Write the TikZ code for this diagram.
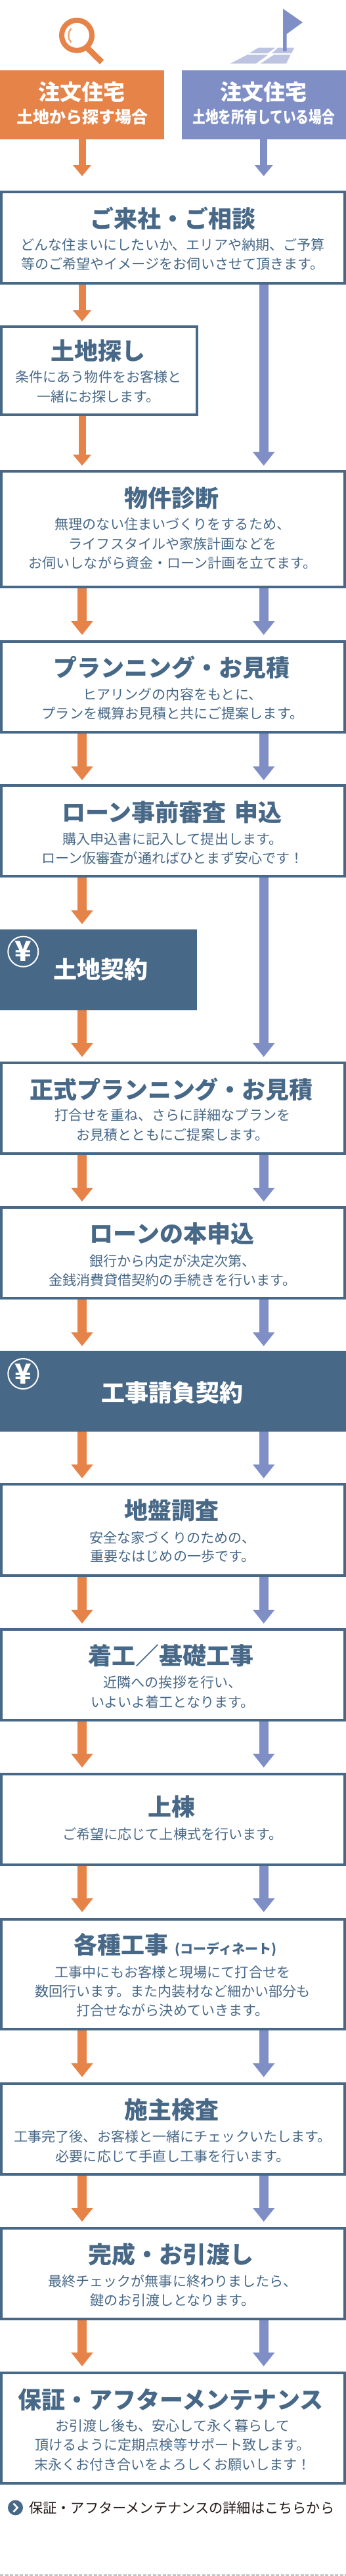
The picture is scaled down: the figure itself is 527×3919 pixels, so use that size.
\documentclass[tikz,border=0pt]{standalone}
\usepackage{fontspec}
\usepackage{graphicx}
\usetikzlibrary{arrows.meta}
\setmainfont{Noto Sans CJK JP}
\definecolor{navy}{HTML}{476887}
\definecolor{orng}{HTML}{E58348}
\definecolor{peri}{HTML}{7F8FC6}
\definecolor{perilt}{HTML}{BCC4E2}
\definecolor{orlt}{HTML}{EDA878}
\definecolor{ink}{HTML}{231815}
\newcommand{\fs}[1]{\fontsize{#1pt}{#1pt}\selectfont}
\tikzset{
  x=1pt,y=-1pt,
  flowbox/.style={draw=navy,line width=4pt,fill=white,anchor=north west,inner sep=0pt},
  wide/.style={minimum width=523pt},
  narrow/.style={minimum width=297.5pt},
  paybox/.style={fill=navy,anchor=north west,inner sep=0pt,outer sep=0pt},
  headbox/.style={anchor=north west,inner sep=0pt,outer sep=0pt,minimum width=250pt,minimum height=105.5pt},
  ttl/.style={text=navy,font=\fs{36}\bfseries,inner sep=0pt},
  ttlw/.style={text=white,font=\fs{36}\bfseries,inner sep=0pt},
  body/.style={text=navy,font=\fs{21.1},inner sep=0pt},
  oarrow/.style={draw=orng,fill=orng,line width=14pt,-{Triangle[width=32pt,length=21pt]}},
  barrow/.style={draw=peri,fill=peri,line width=14pt,-{Triangle[width=32pt,length=21pt]}},
  thin arrow/.style={line width=11pt,-{Triangle[width=27pt,length=17pt]}},
  yenmark/.style={draw=white,line width=2pt,circle,minimum size=46pt,inner sep=0pt,text=white,font=\fs{42}\bfseries},
}
\begin{document}
\begin{tikzpicture}
\path[use as bounding box,fill=white] (0,0) rectangle (527,3919);
\coordinate (ol) at (125,0);
\coordinate (bl) at (401.7,0);

% icons
\draw[orng,line width=8pt] (117,53.8) circle[radius=23];
\draw[orng,line width=9pt] (132,72) -- (155,94.5);
\draw[orlt,line width=2.5pt,line cap=round] (108,44) .. controls (103,50) and (103,58) .. (108,64);
\fill[perilt] (393.3,72.7) -- (419.3,72.7) -- (407.7,81) -- (380,81) -- cycle;
\fill[perilt] (423.3,72.7) -- (448.3,72.7) -- (444,81) -- (414,81) -- cycle;
\fill[perilt] (376.7,83.3) -- (408.3,83.3) -- (390,96.7) -- (350.7,96.7) -- cycle;
\fill[perilt] (417.3,83.3) -- (442.7,83.3) -- (436,96.7) -- (396.7,96.7) -- cycle;
\fill[peri] (431,13.3) -- (461,34) -- (436.7,51.7) -- (436.7,78) -- (431,78) -- cycle;

% header boxes
\node[headbox,fill=orng] (hL) at (0,106.5) {};
\node[headbox,fill=peri] (hR) at (277,106.5) {};
\node[text=white,font=\fs{33}\bfseries,inner sep=0pt] (hL1) at (124.5,139.5) {注文住宅};
\node[text=white,font=\fs{25}\bfseries,inner sep=0pt] (hL2) at (125,178) {土地から探す場合};
\node[text=white,font=\fs{33}\bfseries,inner sep=0pt] (hR1) at (401.7,139.5) {注文住宅};
\node[text=white,font=\fs{25}\bfseries,inner sep=0pt] (hR2) at (401.7,178) {\scalebox{0.79}[1]{土地を所有している場合}};

% step boxes
\node[flowbox,wide,minimum height=139pt] (b1) at (0,290) {};
\node[flowbox,narrow,minimum height=134pt] (b2) at (0,495) {};
\node[flowbox,wide,minimum height=176pt] (b3) at (0,715) {};
\node[flowbox,wide,minimum height=138pt] (b4) at (0,974) {};
\node[flowbox,wide,minimum height=138pt] (b5) at (0,1193) {};
\node[paybox,minimum width=300pt,minimum height=123pt] (b6) at (0,1414) {};
\node[flowbox,wide,minimum height=138pt] (b7) at (0,1615) {};
\node[flowbox,wide,minimum height=138pt] (b8) at (0,1835) {};
\node[paybox,minimum width=527pt,minimum height=123pt] (b9) at (0,2055) {};
\node[flowbox,wide,minimum height=139pt] (b10) at (0,2256) {};
\node[flowbox,wide,minimum height=138pt] (b11) at (0,2477) {};
\node[flowbox,wide,minimum height=138pt] (b12) at (0,2697) {};
\node[flowbox,wide,minimum height=167pt] (b13) at (0,2918) {};
\node[flowbox,wide,minimum height=138pt] (b14) at (0,3168) {};
\node[flowbox,wide,minimum height=138pt] (b15) at (0,3388) {};
\node[flowbox,wide,minimum height=168pt] (b16) at (0,3608) {};

% connectors, orange lane
\draw[oarrow,thin arrow,shorten >=22pt] (hL.south -| ol) -- (b1.north -| ol);
\draw[oarrow,thin arrow,shorten >=6pt] (b1.south -| ol) -- (b2.north -| ol);
\draw[oarrow,thin arrow,shorten >=6.5pt] (b2.south -| ol) -- (b3.north -| ol);
\draw[oarrow,shorten >=8pt] (b3.south -| ol) -- (b4.north -| ol);
\draw[oarrow,shorten >=6pt] (b4.south -| ol) -- (b5.north -| ol);
\draw[oarrow,shorten >=8pt] (b5.south -| ol) -- (b6.north -| ol);
\draw[oarrow,shorten >=7pt] (b6.south -| ol) -- (b7.north -| ol);
\draw[oarrow,shorten >=7pt] (b7.south -| ol) -- (b8.north -| ol);
\draw[oarrow,shorten >=7pt] (b8.south -| ol) -- (b9.north -| ol);
\draw[oarrow,shorten >=7pt] (b9.south -| ol) -- (b10.north -| ol);
\draw[oarrow,shorten >=7pt] (b10.south -| ol) -- (b11.north -| ol);
\draw[oarrow,shorten >=8pt] (b11.south -| ol) -- (b12.north -| ol);
\draw[oarrow,shorten >=9pt] (b12.south -| ol) -- (b13.north -| ol);
\draw[oarrow,shorten >=8pt] (b13.south -| ol) -- (b14.north -| ol);
\draw[oarrow,shorten >=8pt] (b14.south -| ol) -- (b15.north -| ol);
\draw[oarrow,shorten >=8pt] (b15.south -| ol) -- (b16.north -| ol);
% connectors, blue lane
\draw[barrow,thin arrow,shorten >=22pt] (hR.south -| bl) -- (b1.north -| bl);
\draw[barrow,shorten >=6.5pt] (b1.south -| bl) -- (b3.north -| bl);
\draw[barrow,shorten >=8pt] (b3.south -| bl) -- (b4.north -| bl);
\draw[barrow,shorten >=6pt] (b4.south -| bl) -- (b5.north -| bl);
\draw[barrow,shorten >=7pt] (b5.south -| bl) -- (b7.north -| bl);
\draw[barrow,shorten >=7pt] (b7.south -| bl) -- (b8.north -| bl);
\draw[barrow,shorten >=7pt] (b8.south -| bl) -- (b9.north -| bl);
\draw[barrow,shorten >=7pt] (b9.south -| bl) -- (b10.north -| bl);
\draw[barrow,shorten >=7pt] (b10.south -| bl) -- (b11.north -| bl);
\draw[barrow,shorten >=8pt] (b11.south -| bl) -- (b12.north -| bl);
\draw[barrow,shorten >=9pt] (b12.south -| bl) -- (b13.north -| bl);
\draw[barrow,shorten >=8pt] (b13.south -| bl) -- (b14.north -| bl);
\draw[barrow,shorten >=8pt] (b14.south -| bl) -- (b15.north -| bl);
\draw[barrow,shorten >=8pt] (b15.south -| bl) -- (b16.north -| bl);

% texts
\node[ttl] (t1) at (263,332) {ご来社・ご相談};
\node[body] (t1a) at (263,372.5) {どんな住まいにしたいか、エリアや納期、ご予算};
\node[body] (t1b) at (263,401.7) {等のご希望やイメージをお伺いさせて頂きます。};

\node[ttl] (t2) at (149,533.5) {土地探し};
\node[body] (t2a) at (150,573.6) {条件にあう物件をお客様と};
\node[body] (t2b) at (150,603.6) {一緒にお探します。};

\node[ttl] (t3) at (261,757.6) {物件診断};
\node[body] (t3a) at (263,797) {無理のない住まいづくりをするため、};
\node[body] (t3b) at (263,827) {ライフスタイルや家族計画などを};
\node[body] (t3c) at (263,856) {お伺いしながら資金・ローン計画を立てます。};

\node[ttl] (t4) at (261,1015.6) {プランニング・お見積};
\node[body] (t4a) at (263,1056) {ヒアリングの内容をもとに、};
\node[body] (t4b) at (263,1085) {プランを概算お見積と共にご提案します。};

\node[ttl] (t5) at (262,1236) {ローン事前審査\hspace{13pt}申込};
\node[body] (t5a) at (263,1276) {購入申込書に記入して提出します。};
\node[body] (t5b) at (263,1305) {ローン仮審査が通ればひとまず安心です！};

\node[yenmark] (y6) at (35.3,1447.7) {¥};
\node[ttlw] (t6) at (153,1474.5) {土地契約};

\node[ttl] (t7) at (261,1657) {正式プランニング・お見積};
\node[body] (t7a) at (263,1696) {打合せを重ね、さらに詳細なプランを};
\node[body] (t7b) at (263,1726) {お見積とともにご提案します。};

\node[ttl] (t8) at (262,1877) {ローンの本申込};
\node[body] (t8a) at (263,1918) {銀行から内定が決定次第、};
\node[body] (t8b) at (263,1947) {金銭消費貸借契約の手続きを行います。};

\node[yenmark] (y9) at (35.3,2090) {¥};
\node[ttlw] (t9) at (262.5,2119) {工事請負契約};

\node[ttl] (t10) at (261,2298) {地盤調査};
\node[body] (t10a) at (263,2339) {安全な家づくりのための、};
\node[body] (t10b) at (263,2368) {重要なはじめの一歩です。};

\node[ttl] (t11) at (260,2519) {着工／基礎工事};
\node[body] (t11a) at (263,2559) {近隣への挨拶を行い、};
\node[body] (t11b) at (263,2589) {いよいよ着工となります。};

\node[ttl] (t12) at (261,2749) {上棟};
\node[body] (t12a) at (263,2790) {ご希望に応じて上棟式を行います。};

\node[ttl] (t13) at (267,2959) {各種工事\hspace{10pt}{\fs{20}(コーディネート)}};
\node[body] (t13a) at (263,3000) {工事中にもお客様と現場にて打合せを};
\node[body] (t13b) at (263,3029) {数回行います。また内装材など細かい部分も};
\node[body] (t13c) at (263,3058) {打合せながら決めていきます。};

\node[ttl] (t14) at (261,3210) {施主検査};
\node[body] (t14a) at (263,3250) {工事完了後、お客様と一緒にチェックいたします。};
\node[body] (t14b) at (263,3280) {必要に応じて手直し工事を行います。};

\node[ttl] (t15) at (260,3430) {完成・お引渡し};
\node[body] (t15a) at (263,3470) {最終チェックが無事に終わりましたら、};
\node[body] (t15b) at (263,3499) {鍵のお引渡しとなります。};

\node[ttl] (t16) at (260,3651) {保証・アフターメンテナンス};
\node[body] (t16a) at (263,3690) {お引渡し後も、安心して永く暮らして};
\node[body] (t16b) at (263,3719) {頂けるように定期点検等サポート致します。};
\node[body] (t16c) at (263,3749) {末永くお付き合いをよろしくお願いします！};

% link
\node[circle,fill=navy,minimum size=23pt,inner sep=0pt] (lk) at (23.5,3815) {};
\draw[white,line width=2.6pt] (20.5,3808.5) -- (26.5,3815) -- (20.5,3821.5);
\node[text=ink,font=\fs{21.2},anchor=west,inner sep=0pt] (lkt) at (44,3815) {保証・アフターメンテナンスの詳細はこちらから};
\draw[ink,line width=1.6pt,dash pattern=on 5pt off 2.5pt] (0,3917.3) -- (527,3917.3);
\end{tikzpicture}
\end{document}
